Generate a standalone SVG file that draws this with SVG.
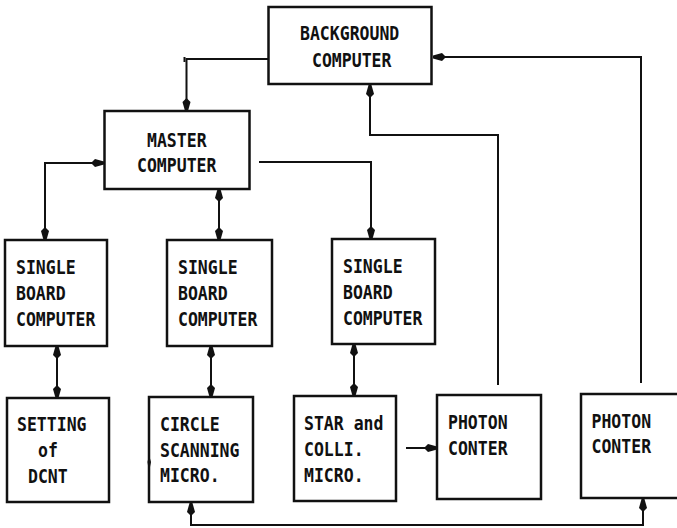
<svg xmlns="http://www.w3.org/2000/svg" width="677" height="528" viewBox="0 0 677 528">
<style>
.box{fill:#fff;stroke:#111;stroke-width:2.5}
.t{font-family:"DejaVu Sans Mono","Liberation Mono",monospace;font-size:16.5px;fill:#111;font-weight:bold}
.c{fill:none;stroke:#111;stroke-width:2}
</style>
<defs>
<marker id="ah" markerUnits="userSpaceOnUse" markerWidth="16" markerHeight="12" refX="13" refY="5" orient="auto-start-reverse">
<path d="M0,5 L4,1 L13,3.5 L13,6.5 L4,9 Z" fill="#111"/>
</marker>
</defs>
<rect width="677" height="528" fill="#fff"/>
<g id="connectors">
<path class="c" d="M268,59 H186.5 V111" marker-end="url(#ah)"/>
<path class="c" d="M184.5,57 V62"/>
<path class="c" d="M498,385 V135 H370 V85" marker-end="url(#ah)"/>
<path class="c" d="M641,383 V57 H433" marker-end="url(#ah)"/>
<path class="c" d="M104,163 H45 V240" marker-start="url(#ah)" marker-end="url(#ah)"/>
<path class="c" d="M219,189 V240" marker-start="url(#ah)" marker-end="url(#ah)"/>
<path class="c" d="M259,162 H371 V239" marker-end="url(#ah)"/>
<path class="c" d="M57,346 V398" marker-start="url(#ah)" marker-end="url(#ah)"/>
<path class="c" d="M211,346 V397" marker-start="url(#ah)" marker-end="url(#ah)"/>
<path class="c" d="M354,344 V396" marker-start="url(#ah)" marker-end="url(#ah)"/>
<path class="c" d="M406,448 H437" marker-end="url(#ah)"/>
<path class="c" d="M191,503 V525 H643 V499" marker-start="url(#ah)" marker-end="url(#ah)"/>
</g>
<g id="background">
<rect class="box" x="268.5" y="7" width="163" height="77"/>
<text class="t" transform="translate(300,40) scale(1,1.2)">BACKGROUND</text>
<text class="t" transform="translate(312,67) scale(1,1.2)">COMPUTER</text>
</g>
<g id="master">
<rect class="box" x="104.5" y="111" width="145" height="78"/>
<text class="t" transform="translate(147,147) scale(1,1.2)">MASTER</text>
<text class="t" transform="translate(137,172) scale(1,1.2)">COMPUTER</text>
</g>
<g id="sbc1">
<rect class="box" x="5" y="240" width="102" height="106"/>
<text class="t" transform="translate(16,274) scale(1,1.2)">SINGLE</text>
<text class="t" transform="translate(16,300) scale(1,1.2)">BOARD</text>
<text class="t" transform="translate(16,326) scale(1,1.2)">COMPUTER</text>
</g>
<g id="sbc2">
<rect class="box" x="167" y="240" width="105" height="106"/>
<text class="t" transform="translate(178,274) scale(1,1.2)">SINGLE</text>
<text class="t" transform="translate(178,300) scale(1,1.2)">BOARD</text>
<text class="t" transform="translate(178,326) scale(1,1.2)">COMPUTER</text>
</g>
<g id="sbc3">
<rect class="box" x="332" y="239" width="103" height="105"/>
<text class="t" transform="translate(343,273) scale(1,1.2)">SINGLE</text>
<text class="t" transform="translate(343,299) scale(1,1.2)">BOARD</text>
<text class="t" transform="translate(343,325) scale(1,1.2)">COMPUTER</text>
</g>
<g id="setting">
<rect class="box" x="7" y="398" width="102" height="104"/>
<text class="t" transform="translate(17,431) scale(1,1.2)">SETTING</text>
<text class="t" transform="translate(38,457) scale(1,1.2)">of</text>
<text class="t" transform="translate(28,483) scale(1,1.2)">DCNT</text>
</g>
<g id="circle">
<rect class="box" x="149" y="397" width="104" height="105"/>
<path d="M149,472 L147.5,462 L149,455 L151,462 Z" fill="#111"/>
<text class="t" transform="translate(160,431) scale(1,1.2)">CIRCLE</text>
<text class="t" transform="translate(160,457) scale(1,1.2)">SCANNING</text>
<text class="t" transform="translate(160,482) scale(1,1.2)">MICRO.</text>
</g>
<g id="star">
<rect class="box" x="294" y="396" width="102" height="105"/>
<text class="t" transform="translate(304,430) scale(1,1.2)">STAR and</text>
<text class="t" transform="translate(304,456) scale(1,1.2)">COLLI.</text>
<text class="t" transform="translate(304,482) scale(1,1.2)">MICRO.</text>
</g>
<g id="photon1">
<rect class="box" x="437" y="395" width="104" height="104"/>
<text class="t" transform="translate(448,429) scale(1,1.2)">PHOTON</text>
<text class="t" transform="translate(448,455) scale(1,1.2)">CONTER</text>
</g>
<g id="photon2">
<rect class="box" x="581" y="394" width="100" height="104"/>
<text class="t" transform="translate(591.5,428) scale(1,1.2)">PHOTON</text>
<text class="t" transform="translate(591.5,453) scale(1,1.2)">CONTER</text>
</g>
</svg>
